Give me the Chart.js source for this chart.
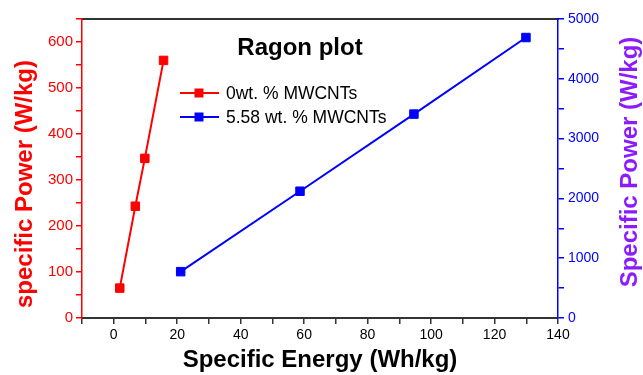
<!DOCTYPE html>
<html>
<head>
<meta charset="utf-8">
<script src="https://cdn.jsdelivr.net/npm/chart.js@4"></script>
<style>
    html, body { margin: 0; padding: 0; background: #fff; }
    #wrap { width: 643px; height: 375px; }
</style>
</head>
<body>
<div id="wrap"><canvas id="ragone-chart"></canvas></div>
<script>
// values
const energy0 = [1.9, 6.8, 9.8, 15.7];          // Wh/kg
const power0 = [65, 243, 347, 560];              // W/kg, left axis
const energy558 = [21.1, 58.7, 94.6, 129.9];     // Wh/kg
const power558 = [775, 2120, 3410, 4690];        // W/kg, right axis
const seriesLabels = ['0wt. % MWCNTs', '5.58 wt. % MWCNTs'];
const chartTitle = 'Ragon plot';
const xTitle = 'Specific Energy (Wh/kg)';
const yLeftTitle = 'specific Power (W/kg)';
const yRightTitle = 'Specific Power (W/kg)';

(function () {
    const FONT = '"Liberation Sans", Arial, sans-serif';
    const RED = '#ff0000';
    const BLUE = '#0000ff';
    const PURPLE = '#8c1cff';
    const DARK = '#333333';

    Chart.defaults.font.family = FONT;

    const toPoints = (xs, ys) => xs.map((x, i) => ({ x: x, y: ys[i] }));

    function drawVertical(ctx, text, x, y, color) {
        ctx.save();
        ctx.translate(x, y);
        ctx.rotate(-Math.PI / 2); // both titles read bottom-to-top
        ctx.fillStyle = color;
        ctx.fillText(text, 0, 0);
        ctx.restore();
    }

    // title, legend and y titles drawn like the original Origin plot
    const insideLegend = {
        id: 'insideLegend',
        afterDraw(chart) {
            const ctx = chart.ctx;
            ctx.save();
            ctx.fillStyle = '#000';
            ctx.textAlign = 'center';
            ctx.textBaseline = 'middle';
            ctx.font = 'bold 24px ' + FONT;
            ctx.fillText(chartTitle, 300, 48);

            drawVertical(ctx, yLeftTitle, 25, 184, RED);
            drawVertical(ctx, yRightTitle, 630, 162, PURPLE);

            ctx.font = '17.5px ' + FONT;
            ctx.textAlign = 'left';
            chart.data.datasets.forEach((ds, i) => {
                const y = 93 + i * 24;
                ctx.strokeStyle = ds.borderColor;
                ctx.lineWidth = 2;
                ctx.beginPath();
                ctx.moveTo(180, y);
                ctx.lineTo(219, y);
                ctx.stroke();
                ctx.fillStyle = ds.backgroundColor;
                ctx.fillRect(199 - 4.5, y - 4.5, 9, 9);
                ctx.fillStyle = '#000';
                ctx.fillText(ds.label, 226, y + 1);
            });
            ctx.restore();
        }
    };

    const ctx = document.getElementById('ragone-chart');
    const chart = new Chart(ctx, {
        type: 'line',
        data: {
            datasets: [
                {
                    label: seriesLabels[0],
                    data: toPoints(energy0, power0),
                    borderColor: RED,
                    backgroundColor: RED,
                    yAxisID: 'y',
                },
                {
                    label: seriesLabels[1],
                    data: toPoints(energy558, power558),
                    borderColor: BLUE,
                    backgroundColor: BLUE,
                    yAxisID: 'y2',
                },
            ],
        },
        plugins: [insideLegend],
        options: {
            responsive: true,
            maintainAspectRatio: false,
            animation: false,
            layout: { padding: 0 },
            elements: {
                line: { borderWidth: 2, tension: 0 },
                point: { pointStyle: 'rect', radius: 6, borderWidth: 1, hoverRadius: 6 },
            },
            plugins: {
                legend: { display: false },
                title: { display: false },
                tooltip: { enabled: false },
            },
            scales: {
                x: {
                    type: 'linear',
                    position: 'bottom',
                    min: -10,
                    max: 140,
                    afterFit: s => { s.height = 57; },
                    ticks: {
                        stepSize: 10,
                        autoSkip: false,
                        maxRotation: 0,
                        color: '#000',
                        font: { size: 14 },
                        padding: 3,
                        callback: v => (v % 20 === 0 ? v : ''),
                    },
                    grid: { drawOnChartArea: false, tickLength: 6, color: DARK, lineWidth: 1.5 },
                    border: { color: DARK, width: 2 },
                    title: {
                        display: true,
                        text: xTitle,
                        color: '#000',
                        font: { size: 24, weight: 'bold' },
                        padding: { top: 0, bottom: 0 },
                    },
                },
                top: {
                    type: 'linear',
                    position: 'top',
                    min: -10,
                    max: 140,
                    afterFit: s => { s.height = 19; },
                    ticks: { display: false },
                    grid: { drawOnChartArea: false, drawTicks: false },
                    border: { color: DARK, width: 2 },
                },
                y: {
                    position: 'left',
                    min: 0,
                    max: 650,
                    afterFit: s => { s.width = 82; },
                    ticks: {
                        stepSize: 50,
                        autoSkip: false,
                        color: RED,
                        font: { size: 15 },
                        padding: 3,
                        callback: v => (v % 100 === 0 ? v : ''),
                    },
                    grid: { drawOnChartArea: false, tickLength: 6, color: RED, lineWidth: 1.5 },
                    border: { color: RED, width: 1.5 },
                },
                y2: {
                    position: 'right',
                    min: 0,
                    max: 5000,
                    afterFit: s => { s.width = 85; },
                    ticks: {
                        stepSize: 500,
                        autoSkip: false,
                        color: BLUE,
                        font: { size: 14 },
                        padding: 4,
                        callback: v => (v % 1000 === 0 ? v : ''),
                    },
                    grid: { drawOnChartArea: false, tickLength: 6, color: BLUE, lineWidth: 1.5 },
                    border: { color: BLUE, width: 1.5 },
                },
            },
        },
    });

    window.chart = chart;
})();
</script>
</body>
</html>
